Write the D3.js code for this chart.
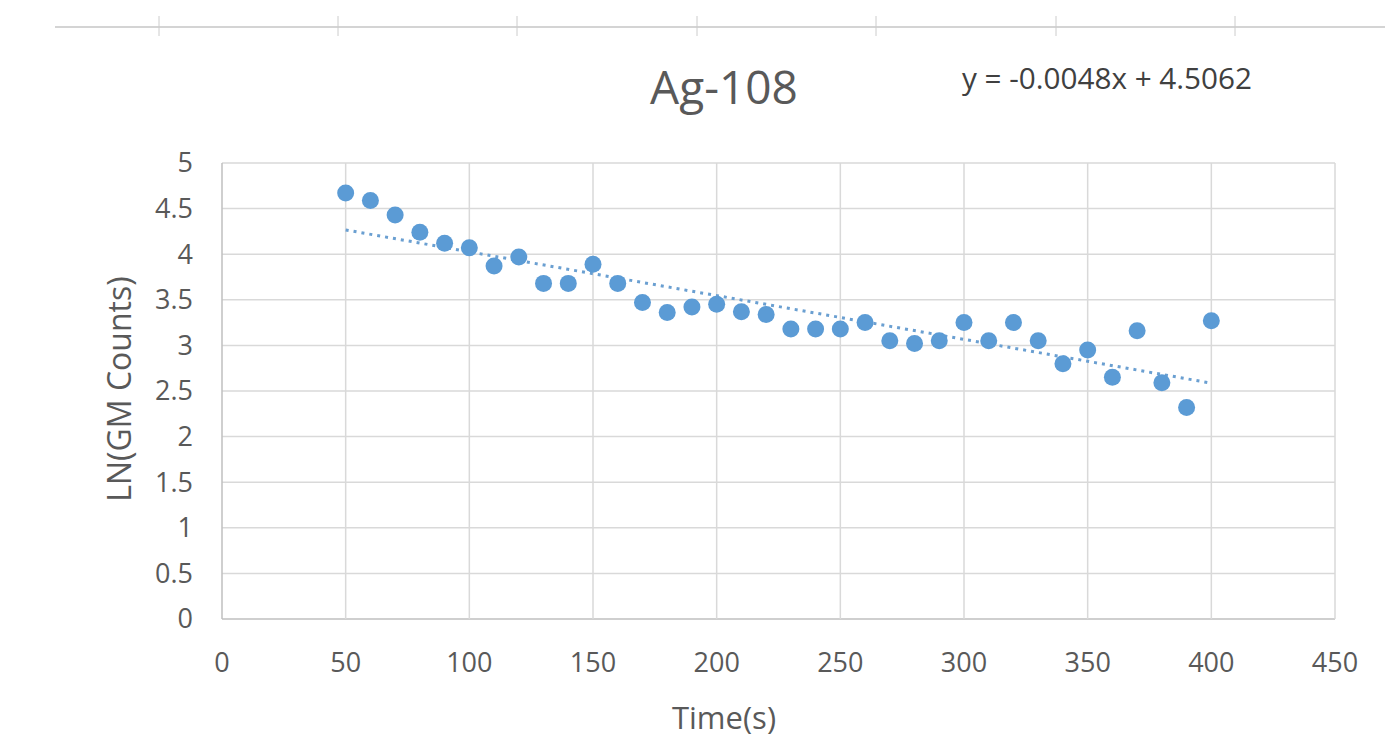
<!DOCTYPE html>
<html>
<head>
<meta charset="utf-8">
<script src="https://cdn.jsdelivr.net/npm/d3@7"></script>
<style>
  body { margin: 0; background: #fff; }
  svg { display: block; }
  text { font-family: "Open Sans", sans-serif; fill: #595959; }
</style>
</head>
<body>
<div id="chart"></div>
<script>

// data
var times = [50, 60, 70, 80, 90, 100, 110, 120, 130, 140, 150, 160, 170, 180, 190, 200, 210, 220,
    230, 240, 250, 260, 270, 280, 290, 300, 310, 320, 330, 340, 350, 360, 370, 380, 390, 400];
var lnCounts = [4.67, 4.59, 4.43, 4.24, 4.12, 4.07, 3.87, 3.97, 3.68, 3.68, 3.89, 3.68, 3.47, 3.36,
    3.42, 3.45, 3.37, 3.34, 3.18, 3.18, 3.18, 3.25, 3.05, 3.02, 3.05, 3.25, 3.05, 3.25, 3.05, 2.80,
    2.95, 2.65, 3.16, 2.59, 2.32, 3.27];
var xTicks = [0, 50, 100, 150, 200, 250, 300, 350, 400, 450];
var yTicks = [0, 0.5, 1, 1.5, 2, 2.5, 3, 3.5, 4, 4.5, 5];
var topTicks = [159, 338, 517, 697, 876, 1056, 1235];
var slope = -0.0048, intercept = 4.5062;
var title = "Ag-108";
var equation = "y = -0.0048x + 4.5062";

var width = 1385, height = 739;
var margin = {left: 222, right: 50, top: 163, bottom: 120};

var svg = d3.select("#chart").append("svg")
    .attr("width", width)
    .attr("height", height);

// strip of ruler at the top of the screenshot
svg.append("line")
    .attr("x1", 55).attr("x2", width)
    .attr("y1", 27).attr("y2", 27)
    .attr("stroke", "#d4d4d4").attr("stroke-width", 2);
svg.selectAll(".rtick")
    .data(topTicks)
    .enter().append("line")
    .attr("class", "rtick")
    .attr("x1", function(d) { return d; }).attr("x2", function(d) { return d; })
    .attr("y1", 16).attr("y2", 36)
    .attr("stroke", "#cccccc").attr("stroke-width", 1);

var x = d3.scaleLinear().domain([0, 450]).range([margin.left, width - margin.right]);
var y = d3.scaleLinear().domain([0, 5]).range([height - margin.bottom, margin.top]);

var g = svg.append("g");

// grid
g.selectAll(".hgrid")
    .data(yTicks)
    .enter().append("line")
    .attr("x1", x(0)).attr("x2", x(450))
    .attr("y1", function(d) { return y(d); }).attr("y2", function(d) { return y(d); })
    .attr("stroke", function(d) { return d === 0 ? "#bfbfbf" : "#d9d9d9"; })
    .attr("stroke-width", 1.5);

g.selectAll(".vgrid")
    .data(xTicks)
    .enter().append("line")
    .attr("x1", function(d) { return x(d); }).attr("x2", function(d) { return x(d); })
    .attr("y1", y(5)).attr("y2", y(0))
    .attr("stroke", function(d) { return d === 0 ? "#bfbfbf" : "#d9d9d9"; })
    .attr("stroke-width", 1.5);

// tick labels
g.selectAll(".xlab")
    .data(xTicks)
    .enter().append("text")
    .attr("x", function(d) { return x(d); })
    .attr("y", y(0) + 53)
    .attr("text-anchor", "middle")
    .style("font-size", "27px")
    .text(function(d) { return d; });

g.selectAll(".ylab")
    .data(yTicks)
    .enter().append("text")
    .attr("x", x(0) - 29)
    .attr("y", function(d) { return y(d); })
    .attr("dy", "0.35em")
    .attr("text-anchor", "end")
    .style("font-size", "27px")
    .text(function(d) { return d; });

// trendline
var line = d3.line()
    .x(function(d) { return x(d); })
    .y(function(d) { return y(slope * d + intercept); });

g.append("path")
    .attr("d", line(d3.extent(times)))
    .attr("fill", "none")
    .attr("stroke", "#6a9fd1")
    .attr("stroke-width", 3)
    .attr("stroke-dasharray", "3,5");

// points
g.selectAll(".dot")
    .data(times)
    .enter().append("circle")
    .attr("cx", function(d) { return x(d); })
    .attr("cy", function(d, i) { return y(lnCounts[i]); })
    .attr("r", 8.5)
    .attr("fill", "#5b9bd5");

// titles
svg.append("text")
    .attr("x", 724).attr("y", 104)
    .attr("text-anchor", "middle")
    .style("font-size", "46px")
    .text(title);

svg.append("text")
    .attr("x", 962).attr("y", 89)
    .attr("textLength", 290)
    .attr("lengthAdjust", "spacingAndGlyphs")
    .style("font-size", "29px")
    .style("fill", "#404040")
    .text(equation);

svg.append("text")
    .attr("x", 724).attr("y", 729)
    .attr("text-anchor", "middle")
    .style("font-size", "31px")
    .text("Time(s)");

svg.append("text")
    .attr("transform", "translate(131,389) rotate(-90)")
    .attr("text-anchor", "middle")
    .style("font-size", "32px")
    .text("LN(GM Counts)");

</script>
</body>
</html>
